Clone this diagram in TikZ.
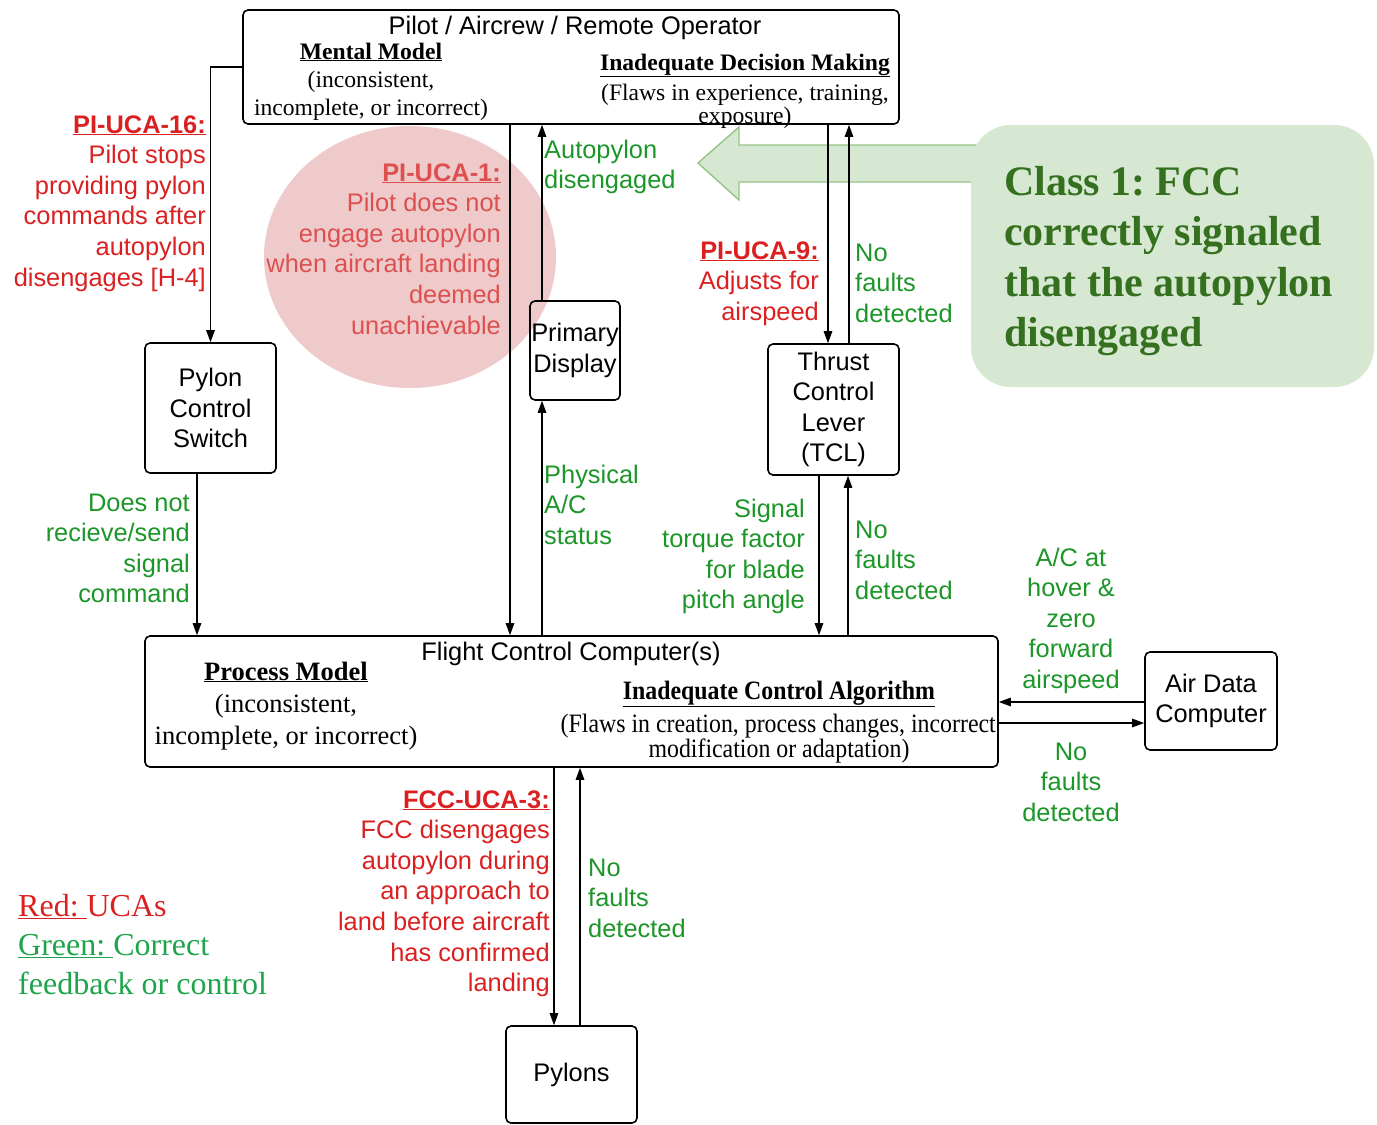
\documentclass[tikz,border=0pt]{standalone}
\usepackage{fontspec}
\setmainfont{Liberation Serif}
\setsansfont{Liberation Sans}
\usetikzlibrary{arrows.meta}
\frenchspacing

\definecolor{ucared}{RGB}{218,32,32}
\definecolor{fbgreen}{RGB}{28,150,40}
\definecolor{fadedred}{RGB}{222,80,80}
\definecolor{blush}{RGB}{238,202,202}
\definecolor{mint}{RGB}{214,232,210}
\definecolor{mintedge}{RGB}{150,196,132}
\definecolor{deepgreen}{RGB}{52,112,30}
\definecolor{legendgreen}{RGB}{30,165,75}

\newcommand\lblfont{\sffamily\fontsize{25.4}{30.6}\selectfont}
\newcommand\pilotserif{\rmfamily\fontsize{23.6}{28}\selectfont}
\newcommand\fccserif{\rmfamily\fontsize{26.5}{32}\selectfont}
\newcommand\uca[1]{\textbf{\underline{#1}}}

\begin{document}
% multi-line labels are placed by the baseline of their last line
\begin{tikzpicture}[x=1pt,y=-1pt,
  box/.style={draw, line width=1.6pt, rounded corners=5pt, inner sep=0pt,
              align=center, font=\lblfont},
  arr/.style={line width=1.3pt, -{Triangle[length=12pt,width=8.5pt]}},
  lbl/.style={inner sep=0pt, font=\lblfont},
  ctl/.style={lbl, text=ucared},
  fb/.style={lbl, text=fbgreen}]

\useasboundingbox (0,0) rectangle (1377,1125);

% highlighted unsafe control action
\fill[blush] (410,257) ellipse [x radius=146, y radius=131];

% call-out arrow and note
\filldraw[fill=mint, draw=mintedge, line width=1.4pt]
  (698,163) -- (739,127) -- (739,145) -- (990,145) -- (990,182)
  -- (739,182) -- (739,200) -- cycle;
\fill[mint, rounded corners=40pt] (971,125) rectangle (1374,387);
\node[inner sep=0pt, anchor=base west, align=left, text=deepgreen,
      font=\rmfamily\bfseries\fontsize{42}{50.5}\selectfont] (note) at (1004,346.5)
  {Class 1: FCC\\correctly signaled\\that the autopylon\\disengaged};

% components
\node[box, minimum width=656, minimum height=114] (pilot) at (571,67) {};
\node[box, minimum width=131, minimum height=130] (pcs) at (210.5,408) {Pylon\\Control\\Switch};
\node[box, minimum width=90, minimum height=99] (pd) at (575,350.5) {Primary\\Display};
\node[box, minimum width=131, minimum height=131] (tcl) at (833.5,409.5) {Thrust\\Control\\Lever\\(TCL)};
\node[box, minimum width=853, minimum height=131] (fcc) at (571.5,701.5) {};
\node[box, minimum width=132, minimum height=98] (adc) at (1211,701) {Air Data\\Computer};
\node[box, minimum width=131, minimum height=97] (pylons) at (571.5,1074.5) {Pylons};

% texts inside the controller boxes
\node[lbl, anchor=base] (pilottitle) at (575,34) {Pilot / Aircrew / Remote Operator};
\node[inner sep=0pt, anchor=base, align=center, font=\pilotserif] (mental) at (371,115)
  {\uca{Mental Model}\\(inconsistent,\\incomplete, or incorrect)};
\node[inner sep=0pt, anchor=base, align=center, font=\rmfamily\fontsize{23.6}{30}\selectfont]
  (decision) at (745,123)
  {\uca{Inadequate Decision Making}\\(Flaws in experience, training,\\[-7pt]exposure)};

\node[lbl, anchor=base] (fcctitle) at (571,660) {Flight Control Computer(s)};
\node[inner sep=0pt, anchor=base, align=center, font=\fccserif] (process) at (286,744)
  {\uca{Process Model}\\(inconsistent,\\incomplete, or incorrect)};
\node[inner sep=0pt, anchor=base, font=\fccserif] (algo) at (779,699)
  {\scalebox{0.9}[1]{\uca{Inadequate Control Algorithm}}};
\node[inner sep=0pt, anchor=base east, font=\fccserif] (algoa) at (996,732)
  {\scalebox{0.9}[1]{(Flaws in creation, process changes, incorrect}};
\node[inner sep=0pt, anchor=base, font=\fccserif] (algob) at (779,757)
  {\scalebox{0.9}[1]{modification or adaptation)}};

% connector columns and rows
\coordinate (cA) at (197,0);
\coordinate (cB) at (510,0);
\coordinate (cC) at (542,0);
\coordinate (cD) at (828,0);
\coordinate (cE) at (849,0);
\coordinate (cF) at (819,0);
\coordinate (cG) at (848,0);
\coordinate (cH) at (554,0);
\coordinate (cI) at (580,0);
\coordinate (rA) at (0,702);
\coordinate (rB) at (0,723);

% control actions and feedback
\draw[arr] (pilot.west) -| (pcs.north);
\draw[arr] (pcs.south -| cA) -- (fcc.north -| cA);
\draw[arr] (pilot.south -| cB) -- (fcc.north -| cB);
\draw[arr] (fcc.north -| cC) -- (pd.south -| cC);
\draw[arr] (pd.north -| cC) -- (pilot.south -| cC);
\draw[arr] (pilot.south -| cD) -- (tcl.north -| cD);
\draw[arr] (tcl.north -| cE) -- (pilot.south -| cE);
\draw[arr] (tcl.south -| cF) -- (fcc.north -| cF);
\draw[arr] (fcc.north -| cG) -- (tcl.south -| cG);
\draw[arr] (adc.west |- rA) -- (fcc.east |- rA);
\draw[arr] (fcc.east |- rB) -- (adc.west |- rB);
\draw[arr] (fcc.south -| cH) -- (pylons.north -| cH);
\draw[arr] (pylons.north -| cI) -- (fcc.south -| cI);

% labels
\node[ctl, align=right, anchor=base east] (uca16) at (206,286)
  {\uca{PI-UCA-16:}\\Pilot stops\\providing pylon\\commands after\\autopylon\\disengages [H-4]};
\node[lbl, text=fadedred, align=right, anchor=base east] (uca1) at (501,334)
  {\uca{PI-UCA-1:}\\Pilot does not\\engage autopylon\\when aircraft landing\\deemed\\unachievable};
\node[fb, align=left, anchor=base west] (fbdisp) at (544,188.6) {Autopylon\\disengaged};
\node[ctl, align=right, anchor=base east] (uca9) at (819,320.2)
  {\uca{PI-UCA-9:}\\Adjusts for\\airspeed};
\node[fb, align=left, anchor=base west] (fbtclup) at (855,322.2) {No\\faults\\detected};
\node[fb, align=right, anchor=base east] (cmdpcs) at (190,602.8)
  {Does not\\recieve/send\\signal\\command};
\node[fb, align=left, anchor=base west] (fbphys) at (544,544.2) {Physical\\A/C\\status};
\node[fb, align=right, anchor=base east] (cmdtcl) at (805,608.8)
  {Signal\\torque factor\\for blade\\pitch angle};
\node[fb, align=left, anchor=base west] (fbtcl) at (855,599.2) {No\\faults\\detected};
\node[fb, align=center, anchor=base] (fbadc) at (1071,688.4)
  {A/C at\\hover \&\\zero\\forward\\airspeed};
\node[fb, align=center, anchor=base] (fbfcc) at (1071,821.2) {No\\faults\\detected};
\node[ctl, align=right, anchor=base east] (uca3) at (550,991.6)
  {\uca{FCC-UCA-3:}\\FCC disengages\\autopylon during\\an approach to\\land before aircraft\\has confirmed\\landing};
\node[fb, align=left, anchor=base west] (fbpyl) at (588,937.2) {No\\faults\\detected};

% legend
\node[inner sep=0pt, anchor=base west, align=left,
      font=\rmfamily\fontsize{32}{39}\selectfont] (legend) at (18,994)
  {\textcolor{ucared}{\underline{Red:\ }UCAs}\\
   \textcolor{legendgreen}{\underline{Green:\ }Correct}\\
   \textcolor{legendgreen}{feedback or control}};

\end{tikzpicture}
\end{document}
